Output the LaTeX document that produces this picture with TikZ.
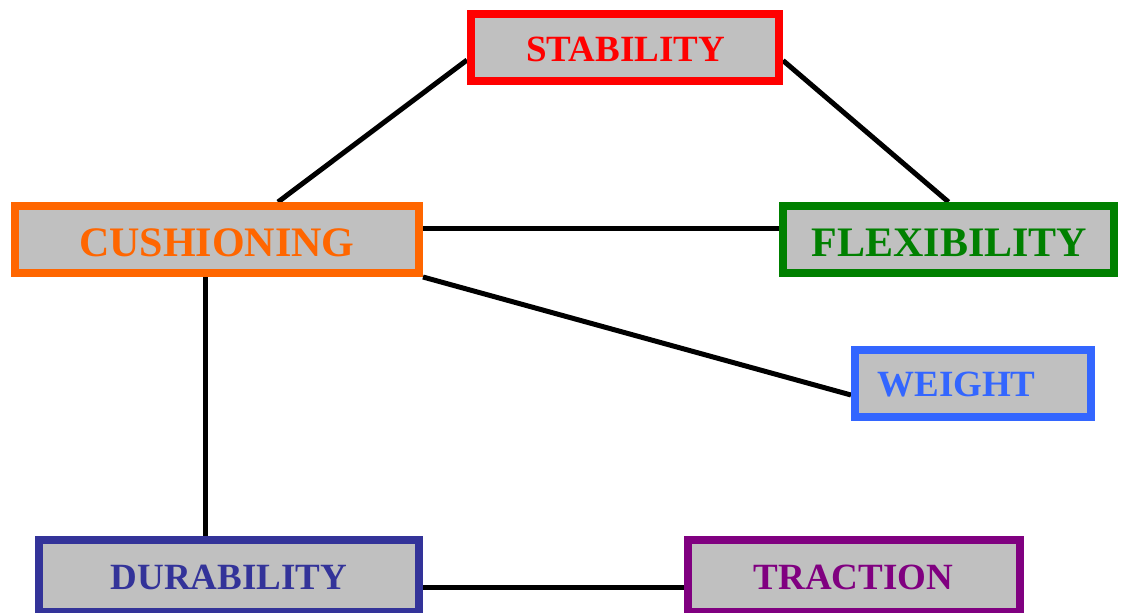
\documentclass[tikz,border=0pt]{standalone}
\usepackage{fontspec}
\setmainfont{Liberation Serif}
\usetikzlibrary{calc,backgrounds}
\definecolor{boxgrey}{HTML}{C0C0C0}
\definecolor{cRed}{HTML}{FF0000}
\definecolor{cOrange}{HTML}{FF6600}
\definecolor{cGreen}{HTML}{008000}
\definecolor{cBlue}{HTML}{3366FF}
\definecolor{cNavy}{HTML}{333399}
\definecolor{cPurple}{HTML}{800080}
\tikzset{
  box/.style={rectangle, fill=boxgrey, line width=6pt, inner sep=0pt,
    minimum height=50.25pt},
  big/.style={anchor=base, inner sep=0pt, font=\bfseries\fontsize{31.5}{36}\selectfont},
  small/.style={anchor=base, inner sep=0pt, font=\bfseries\fontsize{27.75}{32}\selectfont},
  link/.style={line width=3.75pt, black}
}
\begin{document}
\begin{tikzpicture}[x=0.75pt, y=-0.75pt]
  \useasboundingbox (0,0) rectangle (1122,612);
  \clip (0,0) rectangle (1122,612);

  % boxes (sizes measured on the border centre line)
  \node[box, draw=cRed,    minimum width=231pt]    (stab) at (625,47.5) {};
  \node[box, draw=cOrange, minimum width=303pt]    (cush) at (217,239.5) {};
  \node[box, draw=cGreen,  minimum width=248.25pt] (flex) at (948.5,239.5) {};
  \node[box, draw=cBlue,   minimum width=177pt]    (wght) at (973,383.5) {};
  \node[box, draw=cNavy,   minimum width=285pt,  minimum height=54pt] (dura) at (229,576) {};
  \node[box, draw=cPurple, minimum width=249pt,  minimum height=54pt] (trac) at (854,576) {};

  % labels
  \node[small, text=cRed]    (stab-t) at (625.5,61)  {STABILITY};
  \node[big,   text=cOrange] (cush-t) at (217,256)   {CUSHIONING};
  \node[big,   text=cGreen]  (flex-t) at (949.5,256) {FLEXIBILITY};
  \node[small, text=cBlue]   (wght-t) at (956.5,396) {WEIGHT};
  \node[small, text=cNavy]   (dura-t) at (229,589)   {DURABILITY};
  \node[small, text=cPurple] (trac-t) at (853.5,589) {TRACTION};

  % connectors
  \begin{scope}[on background layer]
    \draw[link] ($(stab.west)+(0,12.5)$) -- ($(cush.north)+(61,0)$);
    \draw[link] ($(stab.east)+(0,13)$) -- (flex.north);
    \draw[link] ($(cush.east)+(0,-11.5)$) -- ($(flex.west)+(0,-11.5)$);
    \draw[link] (cush.south east) -- ($(wght.west)+(0,11.5)$);
    \draw[link] ($(cush.south)+(-12,0)$) -- ($(dura.north)+(-24,0)$);
    \draw[link] ($(dura.east)+(0,11.5)$) -- ($(trac.west)+(0,11.5)$);
  \end{scope}
\end{tikzpicture}
\end{document}
